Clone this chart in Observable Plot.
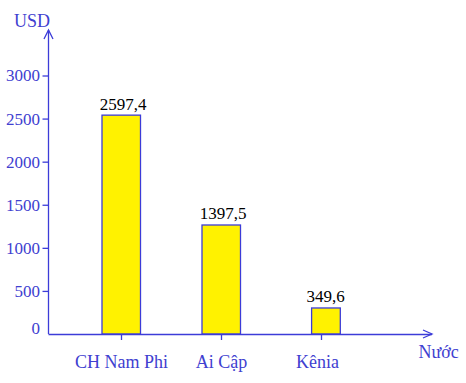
<!DOCTYPE html>
<html><head><meta charset="utf-8">
<script src="https://cdn.jsdelivr.net/npm/d3@7"></script>
<script src="https://cdn.jsdelivr.net/npm/@observablehq/plot@0.6"></script>
<style>
body{margin:0;background:#fff}
svg{display:block}
svg, svg text{font-family:"Liberation Serif","Times New Roman",serif !important;}
</style>
</head><body><div id="chart"></div>
<script>
// Data
const countries = ["CH Nam Phi", "Ai Cập", "Kênia"];
const valueLabels = ["2597,4", "1397,5", "349,6"];
const barHeights = [2540, 1265, 302]; // heights as drawn in the figure
const yTicks = [500, 1000, 1500, 2000, 2500, 3000];
const zeroLabel = [0];
const yUnit = "USD";
const xUnit = "Nước";

const data = countries.map((c, i) => ({country: c, value: barHeights[i], label: valueLabels[i]}));
const main = data.filter(d => d.country !== "Kênia");
const last = data.filter(d => d.country === "Kênia");

const BLUE = "#3c3cd8";
const TEXT = "#4040d0";
const W = 466, H = 383;
const mL = 48.5, mR = 34, mT = 30, mB = 49;

const chart = Plot.plot({
  width: W, height: H,
  marginLeft: mL, marginRight: mR, marginTop: mT, marginBottom: mB,
  style: "font-family: 'Liberation Serif', serif; font-size: 17px; background: #fff;",
  x: {type: "band", domain: countries, range: [70, 371], padding: 0},
  y: {domain: [0, 3000], range: [334, 75.5]},
  marks: [
    Plot.barY(main, {x: "country", y: "value", fill: "#fff200", stroke: BLUE, strokeWidth: 1.3, insetLeft: 31, insetRight: 30.5}),
    Plot.barY(last, {x: "country", y: "value", fill: "#fff200", stroke: BLUE, strokeWidth: 1.3, insetLeft: 40.6, insetRight: 30.7}),
    Plot.ruleY([0], {stroke: BLUE, strokeWidth: 1.3}),
    Plot.axisY(yTicks, {tickSize: 6, tickPadding: 3, stroke: BLUE, fill: TEXT, fontSize: 17, label: null, strokeWidth: 1.3, tickFormat: d => String(d)}),
    Plot.axisX({tickSize: 6, stroke: BLUE, label: null, strokeWidth: 1.3, tickFormat: () => ""}),
    Plot.text(main, {x: "country", text: "country", frameAnchor: "bottom", lineAnchor: "middle", dy: 28, fill: TEXT, fontSize: 18}),
    Plot.text(last, {x: "country", text: "country", frameAnchor: "bottom", lineAnchor: "middle", dy: 28, dx: -4, fill: TEXT, fontSize: 18}),
    Plot.text(zeroLabel, {y: d => d, frameAnchor: "left", textAnchor: "end", dx: -9, dy: -6, text: d => String(d), fill: TEXT, fontSize: 17}),
    Plot.text(main, {x: "country", y: "value", text: "label", lineAnchor: "bottom", dy: -6, dx: 1.5, fill: "#000", fontSize: 17}),
    Plot.text(last, {x: "country", y: "value", text: "label", lineAnchor: "bottom", dy: -6, dx: 4, fill: "#000", fontSize: 17}),
    Plot.text([yUnit], {frameAnchor: "top-left", textAnchor: "end", lineAnchor: "middle", dx: 1, dy: -9.5, fill: TEXT, fontSize: 18}),
    Plot.text([xUnit], {frameAnchor: "bottom-right", textAnchor: "start", lineAnchor: "middle", dx: -14, dy: 18, fill: TEXT, fontSize: 18})
  ]
});

// axis lines with open arrowheads
const svg = d3.select(chart);
const y0 = chart.scale("y").apply(0);
const g = svg.append("g").attr("fill", "none").attr("stroke", BLUE).attr("stroke-width", 1.3);
g.append("path").attr("d", `M${mL},${y0}V${mT}`);
g.append("path").attr("d", `M${mL - 4.5},${mT + 9}L${mL},${mT}L${mL + 4.5},${mT + 9}`);
const xr = W - mR;
g.append("path").attr("d", `M${xr - 9},${y0 - 4}L${xr},${y0}L${xr - 9},${y0 + 4}`);

document.getElementById("chart").appendChild(chart);
</script>
</body></html>
